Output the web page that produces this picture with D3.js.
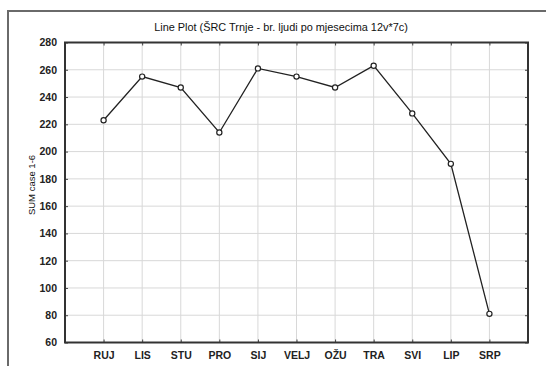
<!DOCTYPE html>
<html><head><meta charset="utf-8">
<script src="https://cdn.jsdelivr.net/npm/d3@7"></script>
<style>body{margin:0;background:#fff}svg{display:block}</style>
</head><body><svg id="c" width="546" height="366"></svg>
<script>
const categories = ["RUJ","LIS","STU","PRO","SIJ","VELJ","OŽU","TRA","SVI","LIP","SRP"];
const values = [223,255,247,214,261,255,247,263,228,191,81];
const yTicks = [60,80,100,120,140,160,180,200,220,240,260,280];
const title = "Line Plot (ŠRC Trnje - br. ljudi po mjesecima 12v*7c)";
const yLabel = "SUM case 1-6";

const svg = d3.select("#c");
const L = 65, R = 528, T = 42.5, B = 342.5;
const font = "Liberation Sans, Arial, sans-serif";

// outer frame
svg.append("path").attr("d", `M8,366 L8,11 L546,11`).attr("fill","none")
  .attr("stroke","#6a6a6a").attr("stroke-width",2);

const x = d3.scalePoint().domain(categories).range([L, R]).padding(1);
const y = d3.scaleLinear().domain([60,280]).range([B, T]);

// grid
svg.append("g").selectAll("line").data(yTicks.slice(1,-1)).join("line")
  .attr("x1", L).attr("x2", R).attr("y1", d=>y(d)).attr("y2", d=>y(d))
  .attr("stroke","#d8d8d8").attr("stroke-width",1);
svg.append("g").selectAll("line").data(categories).join("line")
  .attr("y1", T).attr("y2", B).attr("x1", d=>x(d)).attr("x2", d=>x(d))
  .attr("stroke","#d8d8d8").attr("stroke-width",1);

// axes
const yAxis = d3.axisLeft(y).tickValues(yTicks).tickSize(-3).tickPadding(8);
const gy = svg.append("g").attr("transform",`translate(${L},0)`).call(yAxis);
const xAxis = d3.axisBottom(x).tickSize(-3).tickPadding(9);
const gx = svg.append("g").attr("transform",`translate(0,${B})`).call(xAxis);
const yAxisR = d3.axisRight(y).tickValues(yTicks).tickSize(-3).tickFormat("");
const gyr = svg.append("g").attr("transform",`translate(${R},0)`).call(yAxisR);
const xAxisT = d3.axisTop(x).tickSize(-3).tickFormat("");
const gxt = svg.append("g").attr("transform",`translate(0,${T})`).call(xAxisT);
[gy,gx,gyr,gxt].forEach(g=>{
  g.select(".domain").remove();
  g.selectAll(".tick line").attr("stroke","#444");
  g.selectAll("text").attr("font-family",font).attr("font-size",10.5)
    .attr("font-weight","bold").attr("fill","#222");
});
svg.append("rect").attr("x",L).attr("y",T).attr("width",R-L).attr("height",B-T)
  .attr("fill","none").attr("stroke","#333").attr("stroke-width",2);

// line
const line = d3.line().x((d,i)=>x(categories[i])).y(d=>y(d));
svg.append("path").datum(values).attr("d", line).attr("fill","none")
  .attr("stroke","#222").attr("stroke-width",1.3);
svg.append("g").selectAll("circle").data(values).join("circle")
  .attr("cx",(d,i)=>x(categories[i])).attr("cy",d=>y(d)).attr("r",2.6)
  .attr("fill","#fff").attr("stroke","#222").attr("stroke-width",1.2);

// title
svg.append("text").attr("x",281).attr("y",31).attr("text-anchor","middle")
  .attr("font-family",font).attr("font-size",10.9).attr("fill","#111").text(title);
// y label
svg.append("text").attr("transform",`translate(35,185) rotate(-90)`)
  .attr("text-anchor","middle").attr("font-family",font).attr("font-size",9.5)
  .attr("fill","#111").text(yLabel);
</script></body></html>
